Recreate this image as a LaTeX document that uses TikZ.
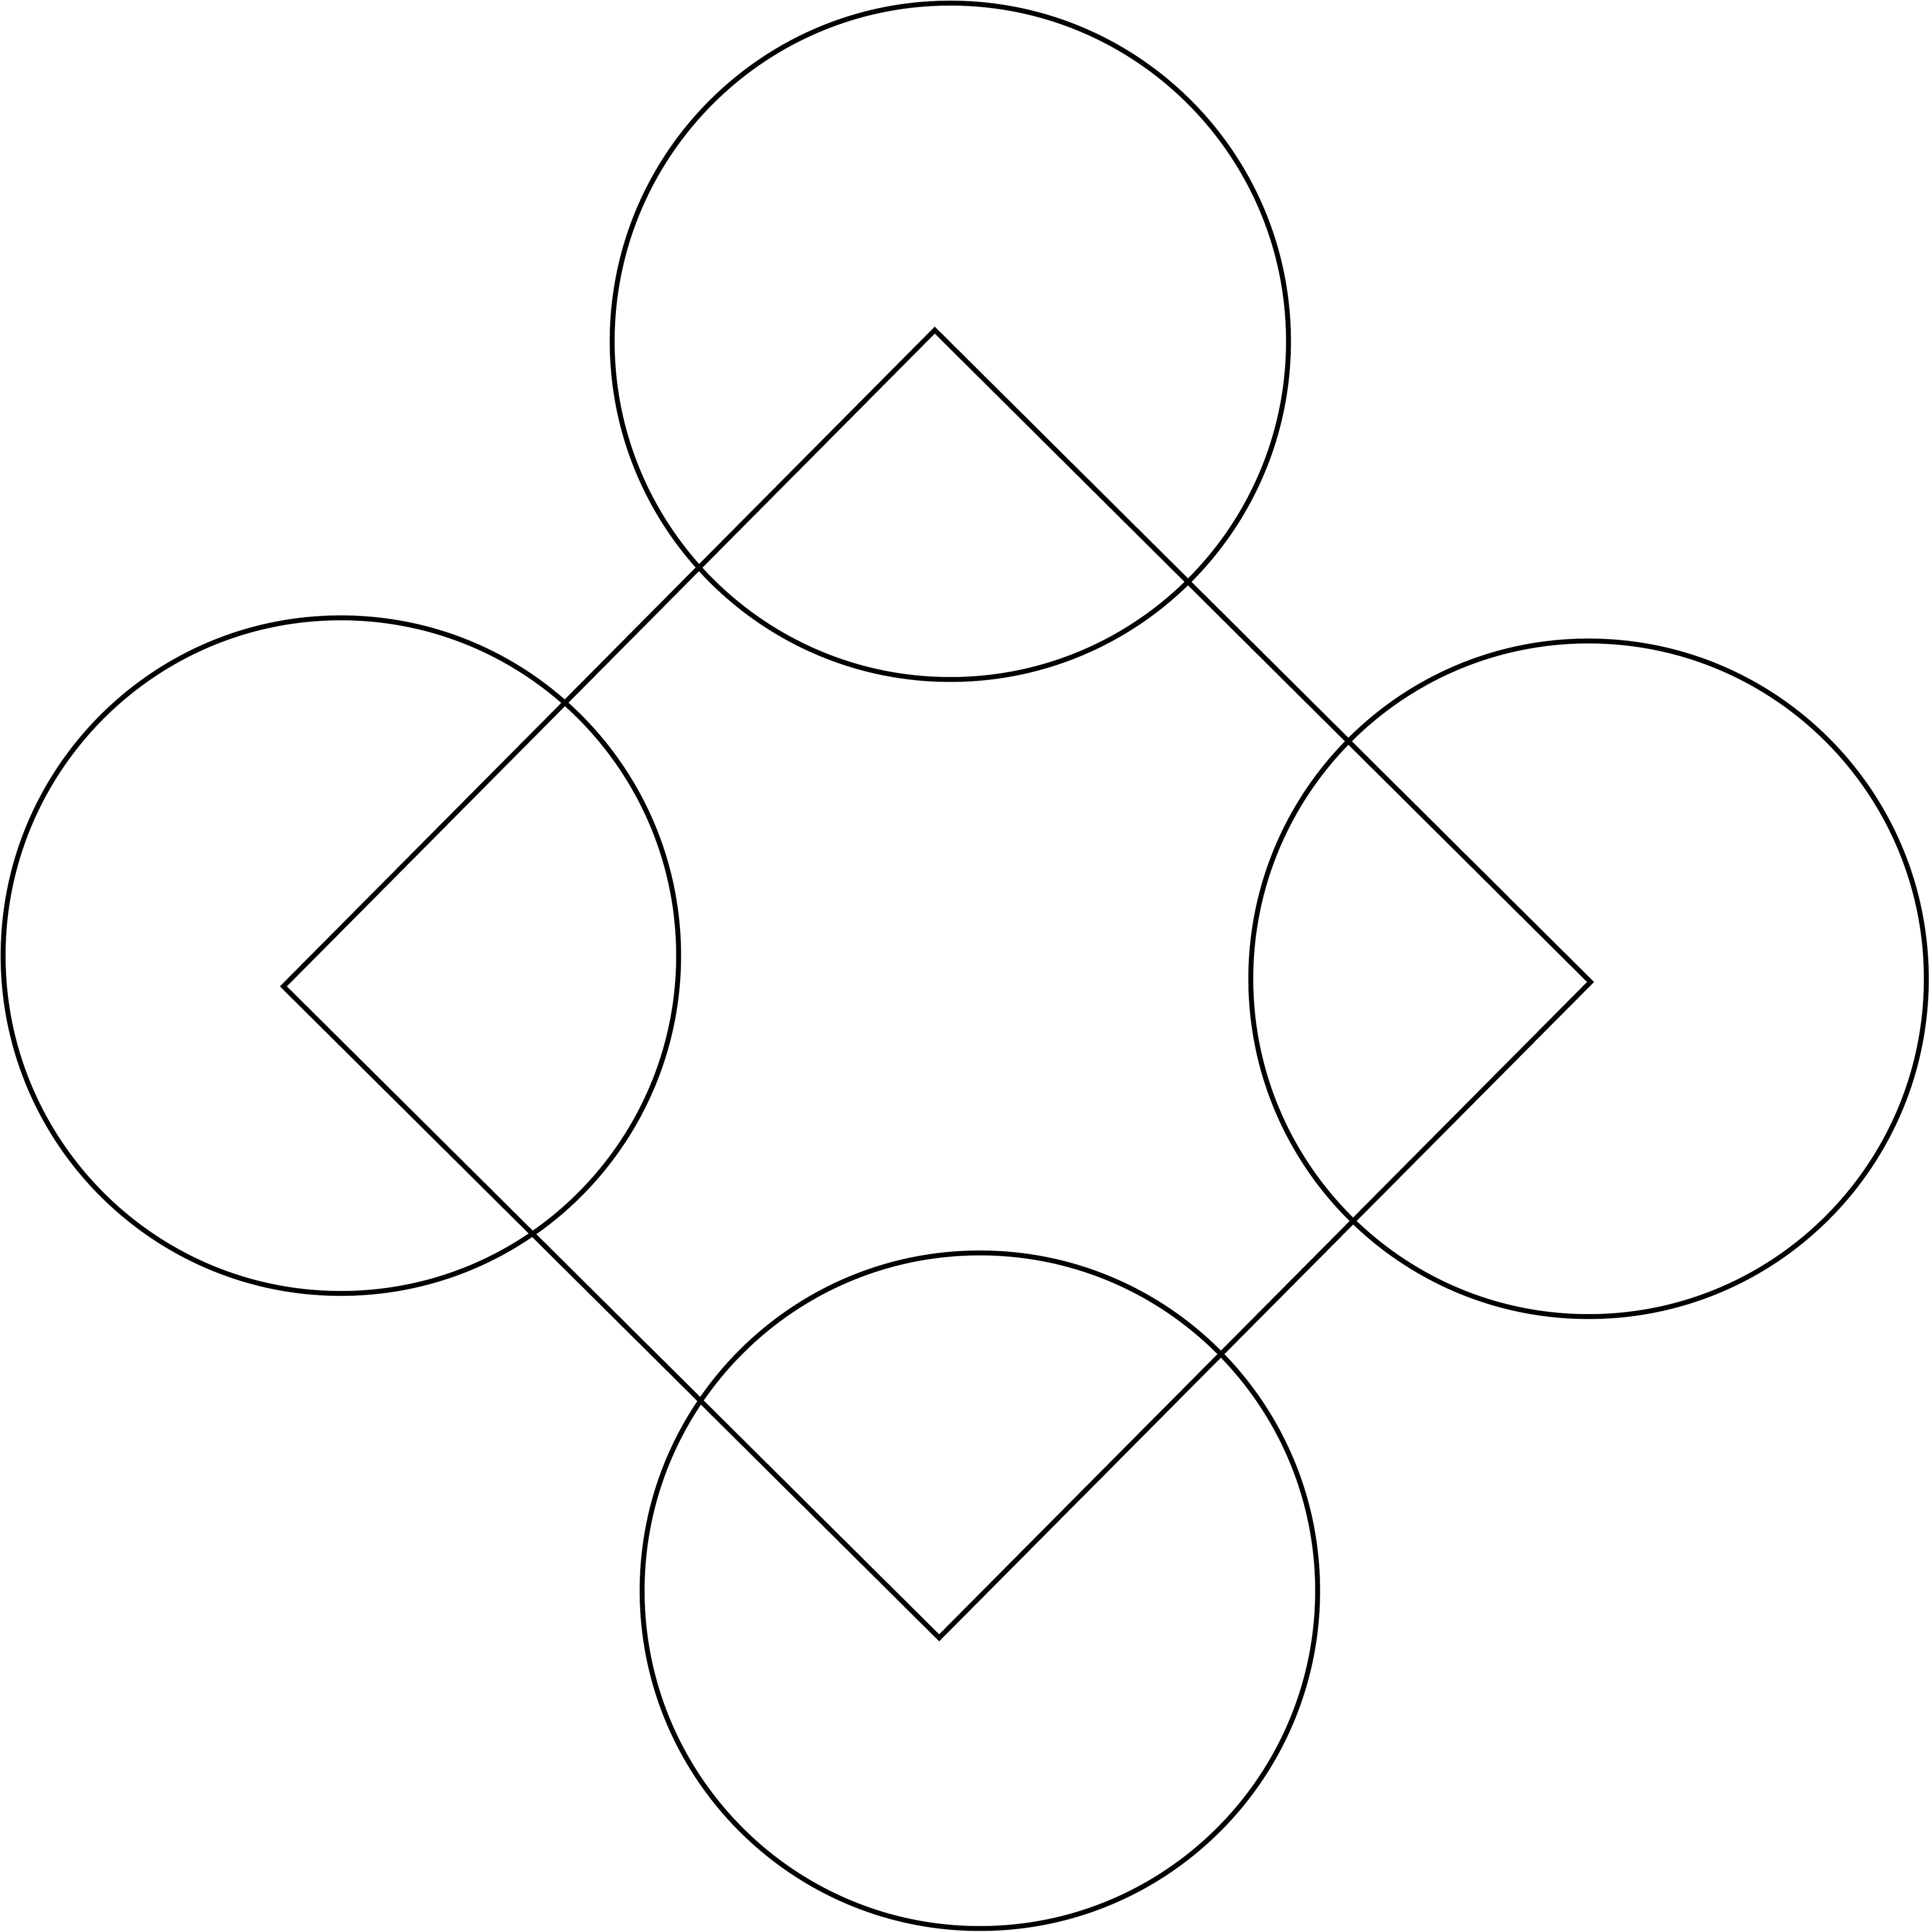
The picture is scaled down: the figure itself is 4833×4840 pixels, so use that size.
\documentclass[tikz,border=0pt]{standalone}
\usepackage{tikz}
\begin{document}
\begin{tikzpicture}[x=0.005cm,y=-0.005cm,line width=1.75pt]
	   \useasboundingbox (0,0) rectangle (4833,4840);
	   % corners of the square
	   \coordinate (top) at (2342,827);
	   \coordinate (right) at (3985,2460);
	   \coordinate (bottom) at (2353,4103);
	   \coordinate (left) at (710,2471);
	   \draw[miter limit=10] (top) -- (right) -- (bottom) -- (left) -- cycle;
	   % four circles
	   \draw (2381,855) circle (4.24cm);
	   \draw (854,2394) circle (4.235cm);
	   \draw (3980,2452) circle (4.235cm);
	   \draw (2455,3985) circle (4.235cm);
\end{tikzpicture}
\end{document}
